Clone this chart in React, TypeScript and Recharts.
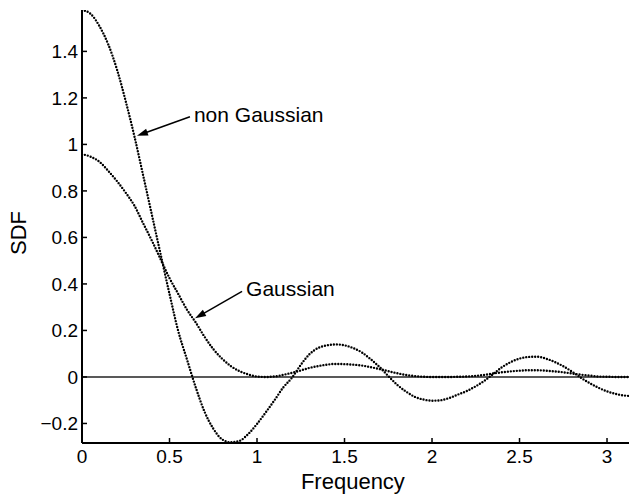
import { LineChart, Line, XAxis, YAxis, ReferenceLine, ReferenceDot } from 'recharts'

// values
const FREQ = [
  0, 0.05, 0.1, 0.15, 0.2, 0.25, 0.3, 0.35, 0.4, 0.45,
  0.5, 0.55, 0.6, 0.65, 0.7, 0.75, 0.8, 0.85, 0.9, 0.95,
  1, 1.05, 1.1, 1.15, 1.2, 1.25, 1.3, 1.35, 1.4, 1.45,
  1.5, 1.55, 1.6, 1.65, 1.7, 1.75, 1.8, 1.85, 1.9, 1.95,
  2, 2.05, 2.1, 2.15, 2.2, 2.25, 2.3, 2.35, 2.4, 2.45,
  2.5, 2.55, 2.6, 2.65, 2.7, 2.75, 2.8, 2.85, 2.9, 2.95,
  3, 3.05, 3.1, 3.14,
]

const NON_GAUSSIAN = [
  1.578, 1.561, 1.508, 1.43, 1.322, 1.185, 1.033, 0.865, 0.695, 0.525,
  0.357, 0.197, 0.075, -0.045, -0.149, -0.222, -0.268, -0.281, -0.275, -0.245,
  -0.202, -0.152, -0.1, -0.045, -0.003, 0.052, 0.098, 0.125, 0.136, 0.14,
  0.136, 0.124, 0.105, 0.076, 0.043, 0.004, -0.033, -0.062, -0.085, -0.097,
  -0.102, -0.1, -0.09, -0.075, -0.06, -0.04, -0.016, 0.013, 0.042, 0.064,
  0.079, 0.086, 0.087, 0.079, 0.065, 0.046, 0.023, -0.003, -0.026, -0.046,
  -0.062, -0.073, -0.08, -0.082,
]

const GAUSSIAN = [
  0.958, 0.947, 0.925, 0.886, 0.842, 0.792, 0.736, 0.66, 0.585, 0.505,
  0.425, 0.357, 0.289, 0.234, 0.173, 0.12, 0.079, 0.047, 0.025, 0.011,
  0.002, 0, 0.002, 0.009, 0.018, 0.028, 0.039, 0.047, 0.053, 0.056,
  0.055, 0.053, 0.049, 0.042, 0.034, 0.025, 0.016, 0.009, 0.004, 0.001,
  0, 0, 0, 0.001, 0.002, 0.005, 0.009, 0.015, 0.02, 0.024,
  0.027, 0.029, 0.029, 0.027, 0.024, 0.02, 0.015, 0.01, 0.006, 0.002,
  0.001, 0, 0, 0,
]

const X_TICKS = [0, 0.5, 1, 1.5, 2, 2.5, 3]
const Y_TICKS = [-0.2, 0, 0.2, 0.4, 0.6, 0.8, 1, 1.2, 1.4]
const X_DOMAIN = [0, 3.1416]
const Y_DOMAIN = [-0.284, 1.578]

const FONT = '"Liberation Sans", Arial, Helvetica, sans-serif'
const TICK_LEN = 5

const rows = FREQ.map((f, i) => ({ f, ng: NON_GAUSSIAN[i], g: GAUSSIAN[i] }))

const fmt = (v: number) => (v < 0 ? '\u2212' + Math.abs(v) : String(v))

function BottomTick({ x, y, payload }: any) {
  return (
    <g>
      <line x1={x} y1={y} x2={x} y2={y - TICK_LEN} stroke="#000" strokeWidth={1.5} />
      <text x={x} y={y + 20} textAnchor="middle" fontSize={19} fontFamily={FONT} fill="#000">
        {fmt(payload.value)}
      </text>
    </g>
  )
}

function LeftTick({ x, y, payload }: any) {
  return (
    <g>
      <line x1={x} y1={y} x2={x + TICK_LEN} y2={y} stroke="#000" strokeWidth={1.5} />
      <text x={x - 4} y={y + 7} textAnchor="end" fontSize={19} fontFamily={FONT} fill="#000">
        {fmt(payload.value)}
      </text>
    </g>
  )
}

const TopTick = ({ x, y }: any) => (
  <line x1={x} y1={y} x2={x} y2={y + TICK_LEN} stroke="#000" strokeWidth={1.5} />
)

const RightTick = ({ x, y }: any) => (
  <line x1={x} y1={y} x2={x - TICK_LEN} y2={y} stroke="#000" strokeWidth={1.5} />
)

// arrow drawn from a text label back to the point (cx, cy) it points at
function arrowShape(text: string, dx: number, dy: number) {
  return ({ cx, cy }: any) => {
    const tx = cx + dx
    const ty = cy + dy
    const len = Math.hypot(dx, dy)
    const ux = -dx / len
    const uy = -dy / len
    const L = 11
    const W = 3.5
    const bx = cx - ux * L
    const by = cy - uy * L
    return (
      <g>
        <line x1={tx} y1={ty} x2={bx + ux * 2} y2={by + uy * 2} stroke="#000" strokeWidth={1.5} />
        <polygon
          points={`${cx},${cy} ${bx - uy * W},${by + ux * W} ${bx + uy * W},${by - ux * W}`}
          fill="#000"
        />
        <text x={tx + 4} y={ty + 5} fontSize={21} fontFamily={FONT} fill="#000">
          {text}
        </text>
      </g>
    )
  }
}

export default function App() {
  // pinned to the window corner; the plot runs past the right edge like the original
  return (
    <div
      style={{
        position: 'fixed', left: 0, top: 0, width: 629, height: 500,
        overflow: 'hidden', background: '#fff',
      }}
    >
      <LineChart
        width={640}
        height={500}
        data={rows}
        margin={{ top: 10, right: 8.2, left: 22, bottom: 27 }}
      >
        <XAxis
          dataKey="f"
          type="number"
          domain={X_DOMAIN}
          ticks={X_TICKS}
          interval={0}
          allowDataOverflow
          height={30}
          tickSize={0}
          tickMargin={0}
          tick={<BottomTick />}
          axisLine={{ stroke: '#000', strokeWidth: 2 }}
          label={{
            content: ({ viewBox }: any) => (
              <text
                x={viewBox.x + viewBox.width / 2 - 4}
                y={489}
                textAnchor="middle"
                fontSize={22}
                fontFamily={FONT}
                fill="#000"
              >
                Frequency
              </text>
            ),
          }}
        />
        <XAxis
          xAxisId="top"
          orientation="top"
          dataKey="f"
          type="number"
          domain={X_DOMAIN}
          ticks={X_TICKS}
          interval={0}
          allowDataOverflow
          height={0}
          tickSize={0}
          tickMargin={0}
          tick={<TopTick />}
          axisLine={{ stroke: '#000', strokeWidth: 2 }}
        />
        <YAxis
          type="number"
          domain={Y_DOMAIN}
          ticks={Y_TICKS}
          interval={0}
          allowDataOverflow
          width={60}
          tickSize={0}
          tickMargin={0}
          tick={<LeftTick />}
          axisLine={{ stroke: '#000', strokeWidth: 2 }}
          label={{
            content: () => (
              <text
                x={26}
                y={233}
                transform="rotate(-90, 26, 233)"
                textAnchor="middle"
                fontSize={22}
                fontFamily={FONT}
                fill="#000"
              >
                SDF
              </text>
            ),
          }}
        />
        <YAxis
          yAxisId="right"
          orientation="right"
          type="number"
          domain={Y_DOMAIN}
          ticks={Y_TICKS}
          interval={0}
          allowDataOverflow
          width={0}
          tickSize={0}
          tickMargin={0}
          tick={<RightTick />}
          axisLine={{ stroke: '#000', strokeWidth: 2 }}
        />
        <ReferenceLine y={0} stroke="#222" strokeWidth={1.5} />
        <Line
          dataKey="ng"
          type="monotone"
          stroke="#000"
          strokeWidth={2.4}
          strokeDasharray="0 3"
          strokeLinecap="round"
          dot={false}
          isAnimationActive={false}
        />
        <Line
          dataKey="g"
          type="monotone"
          stroke="#000"
          strokeWidth={2.4}
          strokeDasharray="0 3"
          strokeLinecap="round"
          dot={false}
          isAnimationActive={false}
        />
        <ReferenceDot x={0.314} y={1.037} r={0} shape={arrowShape('non Gaussian', 53, -19)} />
        <ReferenceDot x={0.646} y={0.252} r={0} shape={arrowShape('Gaussian', 47, -27)} />
      </LineChart>
    </div>
  )
}
